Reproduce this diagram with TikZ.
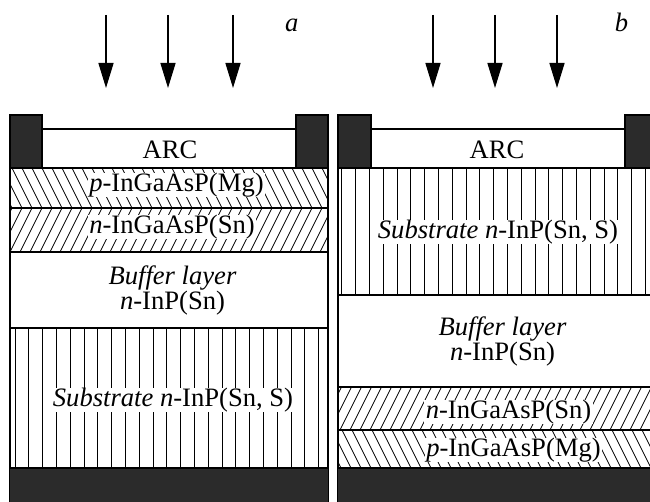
\documentclass[tikz,border=0pt]{standalone}
\usepackage{fontspec}
\setmainfont{Liberation Serif}
\usetikzlibrary{arrows.meta}
\definecolor{dark}{HTML}{2B2B2B}
\begin{document}
\begin{tikzpicture}[x=1pt,y=-1pt,
  edge/.style={line width=1.3pt},
  hatch/.style={line width=0.8pt},
  lbl/.style={font=\fontsize{26.6}{25}\selectfont, inner sep=0pt, anchor=base},
  wlbl/.style={lbl, fill=white, inner xsep=1.5pt},
  ray/.style={line width=1.5pt, -{Triangle[length=25pt,width=15pt]}}]
\useasboundingbox (0,0) rectangle (650,502);
\clip (0,0) rectangle (650,502);

% ---------------- arrows and panel letters
\foreach \x [count=\k] in {106,168,233,433,495,557} {
  \coordinate (s\k) at (\x,15);
  \coordinate (e\k) at (\x,88);
  \draw[ray] (s\k) -- (e\k);
}
\node[lbl] (la) at (291.7,31.5) {\itshape a};
\node[lbl] (lb) at (621.5,31.5) {\itshape b};

% ================= panel a
% substrate vertical lines
\begin{scope}
  \clip (10,328) rectangle (328,468);
  \foreach \i in {0,...,22} \draw[hatch] ({15+13.8*\i},328) -- ({15+13.8*\i},468);
\end{scope}
% p-layer hatch
\begin{scope}
  \clip (10,168) rectangle (328,208);
  \foreach \i in {-3,...,33} \draw[hatch] ({10*\i+2},168) -- ({10*\i+22},208);
\end{scope}
% n-layer hatch
\begin{scope}
  \clip (10,208) rectangle (328,252);
  \foreach \i in {-3,...,33} \draw[hatch] ({10*\i},252) -- ({10*\i+22},208);
\end{scope}
% contacts and ARC
\fill[dark] (10,115) rectangle (42,168);
\fill[dark] (296,115) rectangle (328,168);
\draw[edge] (10,115) rectangle (42,168);
\draw[edge] (296,115) rectangle (328,168);
\draw[edge] (42,129) rectangle (296,168);
% layer boundaries
\draw[edge] (10,115) -- (10,502);
\draw[edge] (328,115) -- (328,502);
\foreach \y in {208,252,328} \draw[edge] (10,\y) -- (328,\y);
\fill[dark] (10,468) rectangle (328,502);
\draw[edge] (10,468) -- (328,468);

\node[lbl]  (arcA)  at (170,158.3) {ARC};
\node[wlbl] (pA)    at (176.5,191.5) {\textit{p}-InGaAsP(Mg)};
\node[wlbl] (nA)    at (172,233.5) {\textit{n}-InGaAsP(Sn)};
\node[lbl]  (bufA1) at (172.5,285) {\textit{Buffer layer}};
\node[lbl]  (bufA2) at (172.5,310) {\textit{n}-InP(Sn)};
\node[wlbl] (subA)  at (173,406.5) {\textit{Substrate n}-InP(Sn, S)};

% ================= panel b
\begin{scope}
  \clip (338,168) rectangle (656,295);
  \foreach \i in {0,...,22} \draw[hatch] ({341.7+13.8*\i},168) -- ({341.7+13.8*\i},295);
\end{scope}
% n-layer hatch
\begin{scope}
  \clip (338,387) rectangle (656,430);
  \foreach \i in {-3,...,33} \draw[hatch] ({330+10*\i},430) -- ({330+10*\i+21.5},387);
\end{scope}
% p-layer hatch
\begin{scope}
  \clip (338,430) rectangle (656,468);
  \foreach \i in {-3,...,33} \draw[hatch] ({332+10*\i},430) -- ({332+10*\i+19},468);
\end{scope}
\fill[dark] (338,115) rectangle (371,168);
\fill[dark] (625,115) rectangle (656,168);
\draw[edge] (338,115) rectangle (371,168);
\draw[edge] (625,115) rectangle (656,168);
\draw[edge] (371,129) rectangle (625,168);
\draw[edge] (338,115) -- (338,502);
\draw[edge] (656,115) -- (656,502);
\foreach \y in {295,387,430} \draw[edge] (338,\y) -- (656,\y);
\fill[dark] (338,468) rectangle (656,502);
\draw[edge] (338,468) -- (656,468);

\node[lbl]  (arcB)  at (497,158.3) {ARC};
\node[wlbl] (subB)  at (498,238.3) {\textit{Substrate n}-InP(Sn, S)};
\node[lbl]  (bufB1) at (502.5,335) {\textit{Buffer layer}};
\node[lbl]  (bufB2) at (502.5,360) {\textit{n}-InP(Sn)};
\node[wlbl] (nB)    at (508.5,418.3) {\textit{n}-InGaAsP(Sn)};
\node[wlbl] (pB)    at (513.5,456.7) {\textit{p}-InGaAsP(Mg)};
\end{tikzpicture}
\end{document}
